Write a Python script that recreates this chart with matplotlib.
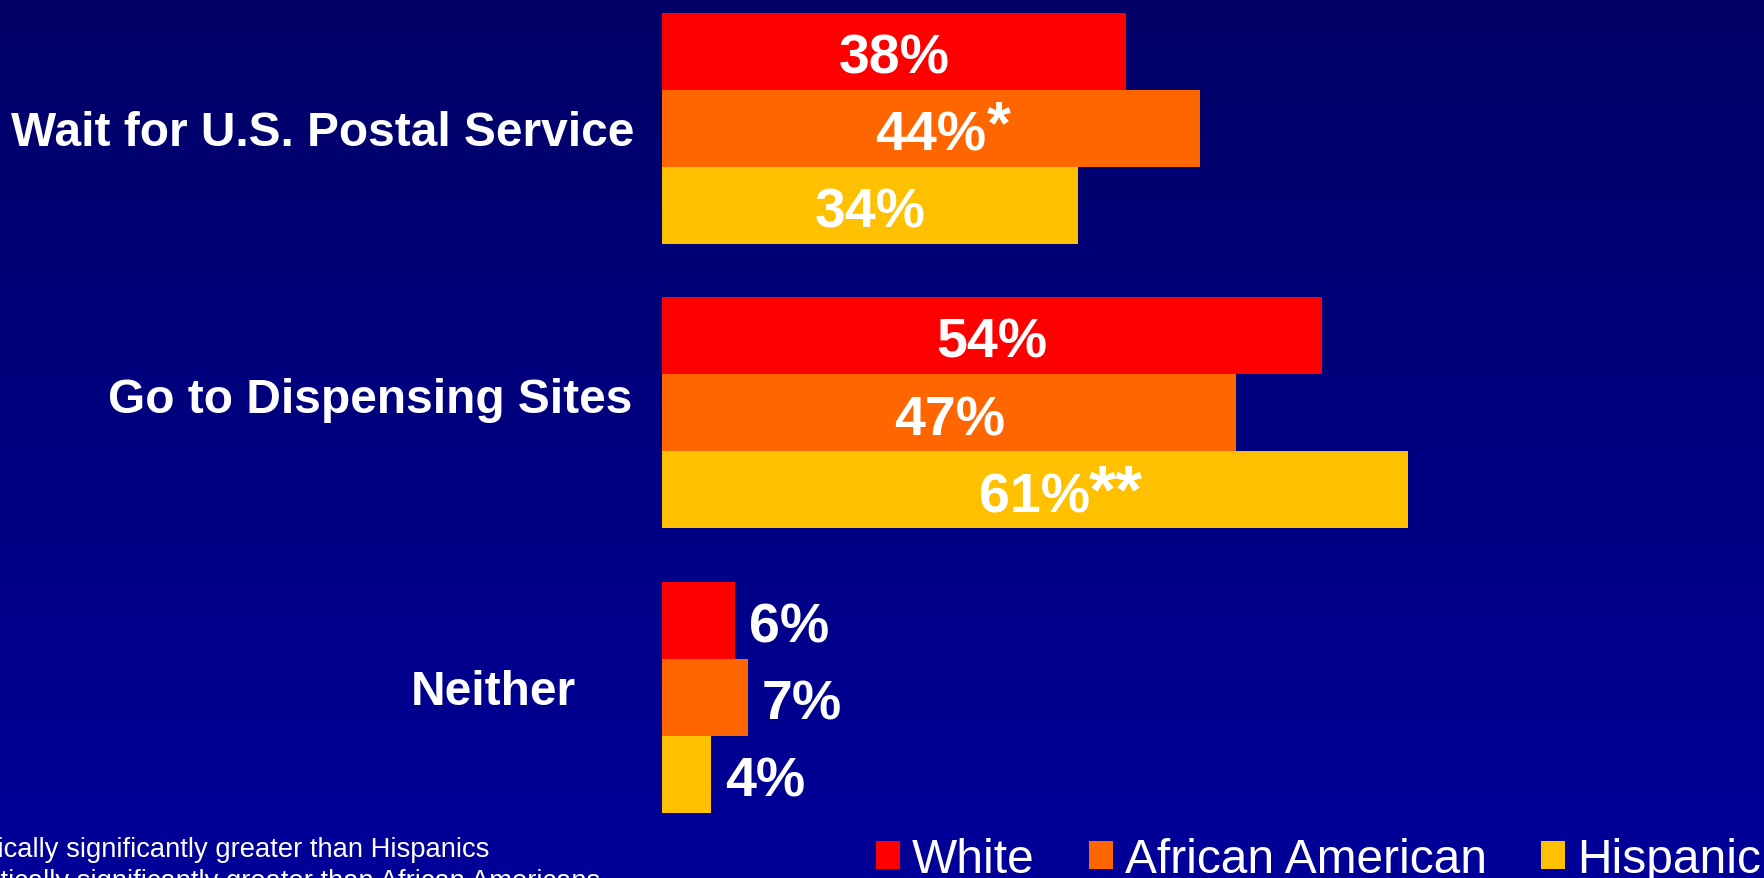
import numpy as np
import matplotlib
matplotlib.use("Agg")
import matplotlib.pyplot as plt

plt.rcParams['font.family'] = ['Liberation Sans', 'DejaVu Sans']

categories = ["Wait for U.S. Postal Service", "Go to Dispensing Sites", "Neither"]
series_names = ["White", "African American", "Hispanic"]
white = [38, 54, 6]
african_american = [44, 47, 7]
hispanic = [34, 61, 4]
# significance markers printed after each value
white_marks = ["", "", ""]
african_american_marks = ["*", "", ""]
hispanic_marks = ["", "**", ""]
footnotes = ["* Statistically significantly greater than Hispanics",
             "** Statistically significantly greater than African Americans"]

series = [white, african_american, hispanic]
marks = [white_marks, african_american_marks, hispanic_marks]
colors = ['#FF0000', '#FF6600', '#FFC000']

W, H = 1765, 879
PT = 72 / 100  # points per pixel at dpi 100
CAP = 0.716    # cap height of Liberation Sans, in em

fig = plt.figure(figsize=(W / 100, H / 100), dpi=100)

# vertical blue gradient behind everything
bg = fig.add_axes([0, 0, 1, 1], zorder=-10)
grad = np.linspace(0, 1, 256).reshape(-1, 1)
top = np.array([0.0, 0.0, 0.40])
bot = np.array([0.0, 0.0, 0.60])
img = top + (bot - top) * grad[..., None]
bg.imshow(img, aspect='auto', extent=[0, 1, 0, 1], origin='upper')
bg.set_axis_off()

step = 3.694
bar_h = 1.0
y_lo, y_hi = -1.5, 2 * step + 1.5
ax = fig.add_axes([662 / W, (H - 814) / H, 1100 / W, 800.5 / H])
ax.set_facecolor('none')
ax.set_xlim(0, 90)
ax.set_ylim(y_hi, y_lo)
ax.set_axis_off()

renderer = fig.canvas.get_renderer()
VAL_FS = 40
base_dy = -CAP * VAL_FS / 2 - 1  # cap height centred on the bar

centers = np.arange(len(categories)) * step
for i, (vals, col, mk) in enumerate(zip(series, colors, marks)):
    ys = centers + (i - 1) * bar_h
    ax.barh(ys, vals, height=bar_h, color=col, label=series_names[i],
            edgecolor='none')
    for y, v, m in zip(ys, vals, mk):
        if v > 20:
            t = ax.annotate(f"{v}%", xy=(v / 2, y), xytext=(0, base_dy),
                            textcoords='offset points', ha='center',
                            va='baseline', fontsize=VAL_FS,
                            fontweight='bold', color='white')
            half = t.get_window_extent(renderer).width / 2 * PT
            if m == "*":
                ax.annotate(m, xy=(v / 2, y), xytext=(half, base_dy + 5),
                            textcoords='offset points', ha='left',
                            va='baseline', fontsize=44,
                            fontweight='bold', color='white')
            elif m:
                ax.annotate(m, xy=(v / 2, y), xytext=(half - 1, base_dy),
                            textcoords='offset points', ha='left',
                            va='baseline', fontsize=50,
                            fontweight='bold', color='white')
        else:
            ax.annotate(f"{v}%", xy=(v, y), xytext=(10, base_dy),
                        textcoords='offset points', ha='left', va='baseline',
                        fontsize=VAL_FS, fontweight='bold', color='white')

# category labels, right-aligned left of the bars
CAT_FS = 34.5
label_x = [634, 632, 576]
label_dy = [0, 18, 11]
for c, cy, lx, dy in zip(categories, centers, label_x, label_dy):
    ax.annotate(c, xy=(0, cy), xytext=((lx - 662) * PT,
                                       (dy * PT) - CAP * CAT_FS / 2),
                textcoords='offset points', ha='right', va='baseline',
                fontsize=CAT_FS, fontweight='bold', color='white',
                annotation_clip=False)

# footnotes, running off the left edge
f1 = fig.text(489 / W, (H - 857) / H, footnotes[0], ha='right',
              va='baseline', fontsize=19.7, color='white')
x0 = f1.get_window_extent(renderer).x0
fig.text(x0 / W, (H - 889) / H, footnotes[1], ha='left', va='baseline',
         fontsize=19.7, color='white')

fig.legend(loc='lower left', bbox_to_anchor=(876 / W, -4 / H),
           ncol=3, frameon=False, fontsize=34.5, handlelength=0.5,
           handleheight=0.5, handletextpad=0.25, columnspacing=1.13,
           borderpad=0, borderaxespad=0, labelcolor='white')

fig.savefig("out.png", dpi=100, facecolor='#000080')
